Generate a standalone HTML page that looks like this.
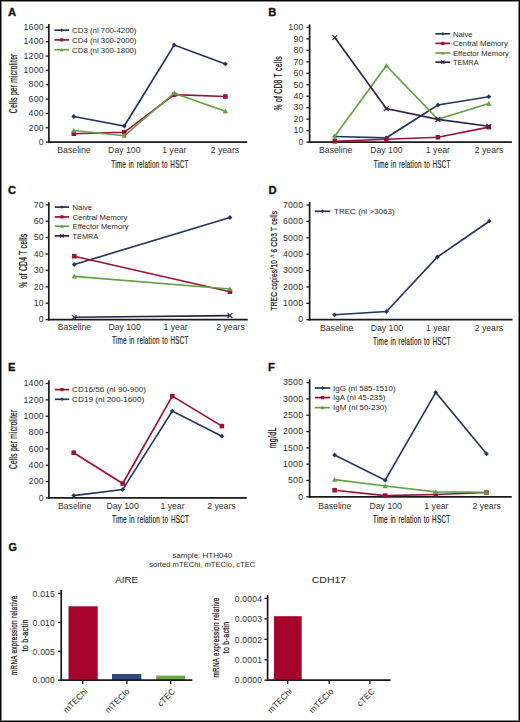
<!DOCTYPE html>
<html><head><meta charset="utf-8"><style>
html,body{margin:0;padding:0;background:#fff;}
body{width:520px;height:722px;overflow:hidden;position:relative;}
svg{position:absolute;left:0;top:0;}
text{font-family:"Liberation Sans", sans-serif;}
</style></head><body>
<svg width="520" height="722" viewBox="0 0 520 722">
<rect x="0" y="0" width="520" height="722" fill="#fff"/>
<text x="8.0" y="16.3" font-size="11.2" text-anchor="start" fill="#111" font-weight="bold" stroke="#111" stroke-width="0.3">A</text>
<line x1="48.9" y1="24.0" x2="48.9" y2="143.0" stroke="#1a1a1a" stroke-width="1.7"/>
<line x1="48.05" y1="142.1" x2="247.2" y2="142.1" stroke="#1a1a1a" stroke-width="1.8"/>
<line x1="45.699999999999996" y1="142.1" x2="48.9" y2="142.1" stroke="#1a1a1a" stroke-width="1.3"/>
<text x="43.85" y="144.85" font-size="8.8" text-anchor="end" fill="#333" font-weight="normal" letter-spacing="0.2">0</text>
<line x1="45.699999999999996" y1="127.75999999999999" x2="48.9" y2="127.75999999999999" stroke="#1a1a1a" stroke-width="1.3"/>
<text x="43.85" y="130.51" font-size="8.8" text-anchor="end" fill="#333" font-weight="normal" letter-spacing="0.2">200</text>
<line x1="45.699999999999996" y1="113.41999999999999" x2="48.9" y2="113.41999999999999" stroke="#1a1a1a" stroke-width="1.3"/>
<text x="43.85" y="116.16999999999999" font-size="8.8" text-anchor="end" fill="#333" font-weight="normal" letter-spacing="0.2">400</text>
<line x1="45.699999999999996" y1="99.07999999999998" x2="48.9" y2="99.07999999999998" stroke="#1a1a1a" stroke-width="1.3"/>
<text x="43.85" y="101.82999999999998" font-size="8.8" text-anchor="end" fill="#333" font-weight="normal" letter-spacing="0.2">600</text>
<line x1="45.699999999999996" y1="84.74" x2="48.9" y2="84.74" stroke="#1a1a1a" stroke-width="1.3"/>
<text x="43.85" y="87.49" font-size="8.8" text-anchor="end" fill="#333" font-weight="normal" letter-spacing="0.2">800</text>
<line x1="45.699999999999996" y1="70.39999999999999" x2="48.9" y2="70.39999999999999" stroke="#1a1a1a" stroke-width="1.3"/>
<text x="43.85" y="73.14999999999999" font-size="8.8" text-anchor="end" fill="#333" font-weight="normal" letter-spacing="0.2">1000</text>
<line x1="45.699999999999996" y1="56.05999999999999" x2="48.9" y2="56.05999999999999" stroke="#1a1a1a" stroke-width="1.3"/>
<text x="43.85" y="58.80999999999999" font-size="8.8" text-anchor="end" fill="#333" font-weight="normal" letter-spacing="0.2">1200</text>
<line x1="45.699999999999996" y1="41.72" x2="48.9" y2="41.72" stroke="#1a1a1a" stroke-width="1.3"/>
<text x="43.85" y="44.47" font-size="8.8" text-anchor="end" fill="#333" font-weight="normal" letter-spacing="0.2">1400</text>
<line x1="45.699999999999996" y1="27.379999999999995" x2="48.9" y2="27.379999999999995" stroke="#1a1a1a" stroke-width="1.3"/>
<text x="43.85" y="30.129999999999995" font-size="8.8" text-anchor="end" fill="#333" font-weight="normal" letter-spacing="0.2">1600</text>
<text x="74.0" y="153.2" font-size="8.7" text-anchor="middle" fill="#333" font-weight="normal" >Baseline</text>
<text x="124.3" y="153.2" font-size="8.7" text-anchor="middle" fill="#333" font-weight="normal" >Day 100</text>
<text x="174.4" y="153.2" font-size="8.7" text-anchor="middle" fill="#333" font-weight="normal" >1 year</text>
<text x="224.9" y="153.2" font-size="8.7" text-anchor="middle" fill="#333" font-weight="normal" >2 years</text>
<text transform="translate(111.25,167.6) scale(0.6005,1)" font-size="10.6" font-weight="normal" letter-spacing="0.416" word-spacing="0.833" text-anchor="start" fill="#1a1a1a" stroke="#1a1a1a" stroke-width="0.2">Time in relation to HSCT</text>
<text transform="translate(16.9,83.3) rotate(-90) scale(0.6484,1)" font-size="10.2" font-weight="normal" letter-spacing="0.386" word-spacing="0.000" text-anchor="middle" fill="#1a1a1a" stroke="#1a1a1a" stroke-width="0.25">Cells per microliter</text>
<line x1="54.4" y1="30.2" x2="69.0" y2="30.2" stroke="#233560" stroke-width="1.7"/>
<path d="M60.0,30.2 L61.7,28.5 L63.400000000000006,30.2 L61.7,31.9 Z" fill="#233560"/>
<text x="72.1" y="33.0" font-size="7.8" text-anchor="start" fill="#282828" font-weight="normal" textLength="64.4" lengthAdjust="spacingAndGlyphs" >CD3 (nl 700-4200)</text>
<line x1="54.4" y1="39.9" x2="69.0" y2="39.9" stroke="#9b1238" stroke-width="1.7"/>
<rect x="60.085" y="38.285" width="3.23" height="3.23" fill="#9b1238"/>
<text x="72.1" y="42.7" font-size="7.8" text-anchor="start" fill="#282828" font-weight="normal" textLength="64.4" lengthAdjust="spacingAndGlyphs" >CD4 (nl 300-2000)</text>
<line x1="54.4" y1="49.699999999999996" x2="69.0" y2="49.699999999999996" stroke="#64a046" stroke-width="1.7"/>
<path d="M59.830000000000005,51.23 L61.7,47.83 L63.57,51.23 Z" fill="#64a046"/>
<text x="72.1" y="52.5" font-size="7.8" text-anchor="start" fill="#282828" font-weight="normal" textLength="64.4" lengthAdjust="spacingAndGlyphs" >CD8 (nl 300-1800)</text>
<polyline points="73.8,116.5 124.3,126.0 174.2,45.0 225.4,63.9" fill="none" stroke="#233560" stroke-width="1.65" stroke-linejoin="miter"/>
<path d="M71.39999999999999,116.5 L73.8,114.1 L76.2,116.5 L73.8,118.9 Z" fill="#233560"/>
<path d="M121.89999999999999,126.0 L124.3,123.6 L126.7,126.0 L124.3,128.4 Z" fill="#233560"/>
<path d="M171.79999999999998,45.0 L174.2,42.6 L176.6,45.0 L174.2,47.4 Z" fill="#233560"/>
<path d="M223.0,63.9 L225.4,61.5 L227.8,63.9 L225.4,66.3 Z" fill="#233560"/>
<polyline points="73.8,133.8 124.3,132.3 174.2,94.7 225.4,96.5" fill="none" stroke="#9b1238" stroke-width="1.65" stroke-linejoin="miter"/>
<rect x="71.52" y="131.52" width="4.56" height="4.56" fill="#9b1238"/>
<rect x="122.02" y="130.02" width="4.56" height="4.56" fill="#9b1238"/>
<rect x="171.92" y="92.42" width="4.56" height="4.56" fill="#9b1238"/>
<rect x="223.12" y="94.22" width="4.56" height="4.56" fill="#9b1238"/>
<polyline points="73.8,130.5 124.3,135.7 174.2,93.2 225.4,111.2" fill="none" stroke="#64a046" stroke-width="1.65" stroke-linejoin="miter"/>
<path d="M71.16,132.66 L73.8,127.86 L76.44,132.66 Z" fill="#64a046"/>
<path d="M121.66,137.85999999999999 L124.3,133.06 L126.94,137.85999999999999 Z" fill="#64a046"/>
<path d="M171.56,95.36 L174.2,90.56 L176.83999999999997,95.36 Z" fill="#64a046"/>
<path d="M222.76000000000002,113.36 L225.4,108.56 L228.04,113.36 Z" fill="#64a046"/>
<text x="268.2" y="16.400000000000002" font-size="11.2" text-anchor="start" fill="#111" font-weight="bold" stroke="#111" stroke-width="0.3">B</text>
<line x1="309.6" y1="24.4" x2="309.6" y2="143.0" stroke="#1a1a1a" stroke-width="1.7"/>
<line x1="308.75" y1="142.1" x2="511.9" y2="142.1" stroke="#1a1a1a" stroke-width="1.8"/>
<line x1="306.40000000000003" y1="142.1" x2="309.6" y2="142.1" stroke="#1a1a1a" stroke-width="1.3"/>
<text x="303.65" y="144.85" font-size="8.8" text-anchor="end" fill="#333" font-weight="normal" letter-spacing="0.2">0</text>
<line x1="306.40000000000003" y1="130.63" x2="309.6" y2="130.63" stroke="#1a1a1a" stroke-width="1.3"/>
<text x="303.65" y="133.38" font-size="8.8" text-anchor="end" fill="#333" font-weight="normal" letter-spacing="0.2">10</text>
<line x1="306.40000000000003" y1="119.16" x2="309.6" y2="119.16" stroke="#1a1a1a" stroke-width="1.3"/>
<text x="303.65" y="121.91" font-size="8.8" text-anchor="end" fill="#333" font-weight="normal" letter-spacing="0.2">20</text>
<line x1="306.40000000000003" y1="107.69" x2="309.6" y2="107.69" stroke="#1a1a1a" stroke-width="1.3"/>
<text x="303.65" y="110.44" font-size="8.8" text-anchor="end" fill="#333" font-weight="normal" letter-spacing="0.2">30</text>
<line x1="306.40000000000003" y1="96.22" x2="309.6" y2="96.22" stroke="#1a1a1a" stroke-width="1.3"/>
<text x="303.65" y="98.97" font-size="8.8" text-anchor="end" fill="#333" font-weight="normal" letter-spacing="0.2">40</text>
<line x1="306.40000000000003" y1="84.75" x2="309.6" y2="84.75" stroke="#1a1a1a" stroke-width="1.3"/>
<text x="303.65" y="87.5" font-size="8.8" text-anchor="end" fill="#333" font-weight="normal" letter-spacing="0.2">50</text>
<line x1="306.40000000000003" y1="73.27999999999999" x2="309.6" y2="73.27999999999999" stroke="#1a1a1a" stroke-width="1.3"/>
<text x="303.65" y="76.02999999999999" font-size="8.8" text-anchor="end" fill="#333" font-weight="normal" letter-spacing="0.2">60</text>
<line x1="306.40000000000003" y1="61.80999999999999" x2="309.6" y2="61.80999999999999" stroke="#1a1a1a" stroke-width="1.3"/>
<text x="303.65" y="64.55999999999999" font-size="8.8" text-anchor="end" fill="#333" font-weight="normal" letter-spacing="0.2">70</text>
<line x1="306.40000000000003" y1="50.33999999999999" x2="309.6" y2="50.33999999999999" stroke="#1a1a1a" stroke-width="1.3"/>
<text x="303.65" y="53.08999999999999" font-size="8.8" text-anchor="end" fill="#333" font-weight="normal" letter-spacing="0.2">80</text>
<line x1="306.40000000000003" y1="38.86999999999999" x2="309.6" y2="38.86999999999999" stroke="#1a1a1a" stroke-width="1.3"/>
<text x="303.65" y="41.61999999999999" font-size="8.8" text-anchor="end" fill="#333" font-weight="normal" letter-spacing="0.2">90</text>
<line x1="306.40000000000003" y1="27.39999999999999" x2="309.6" y2="27.39999999999999" stroke="#1a1a1a" stroke-width="1.3"/>
<text x="303.65" y="30.14999999999999" font-size="8.8" text-anchor="end" fill="#333" font-weight="normal" letter-spacing="0.2">100</text>
<text x="335.7" y="153.1" font-size="8.7" text-anchor="middle" fill="#333" font-weight="normal" >Baseline</text>
<text x="386.4" y="153.1" font-size="8.7" text-anchor="middle" fill="#333" font-weight="normal" >Day 100</text>
<text x="437.9" y="153.1" font-size="8.7" text-anchor="middle" fill="#333" font-weight="normal" >1 year</text>
<text x="489.0" y="153.1" font-size="8.7" text-anchor="middle" fill="#333" font-weight="normal" >2 years</text>
<text transform="translate(373.8,167.7) scale(0.5962,1)" font-size="10.6" font-weight="normal" letter-spacing="0.419" word-spacing="0.839" text-anchor="start" fill="#1a1a1a" stroke="#1a1a1a" stroke-width="0.2">Time in relation to HSCT</text>
<text transform="translate(282.0,83.3) rotate(-90) scale(0.6675,1)" font-size="10.2" font-weight="normal" letter-spacing="0.375" word-spacing="0.000" text-anchor="middle" fill="#1a1a1a" stroke="#1a1a1a" stroke-width="0.25">% of CD8 T cells</text>
<line x1="435.4" y1="33.8" x2="450.2" y2="33.8" stroke="#233560" stroke-width="1.7"/>
<path d="M441.09999999999997,33.8 L442.79999999999995,32.099999999999994 L444.49999999999994,33.8 L442.79999999999995,35.5 Z" fill="#233560"/>
<text x="453.0" y="36.6" font-size="7.8" text-anchor="start" fill="#282828" font-weight="normal" textLength="19.5" lengthAdjust="spacingAndGlyphs" >Naive</text>
<line x1="435.4" y1="43.4" x2="450.2" y2="43.4" stroke="#9b1238" stroke-width="1.7"/>
<rect x="441.18499999999995" y="41.785" width="3.23" height="3.23" fill="#9b1238"/>
<text x="453.0" y="46.2" font-size="7.8" text-anchor="start" fill="#282828" font-weight="normal" textLength="54.8" lengthAdjust="spacingAndGlyphs" >Central Memory</text>
<line x1="435.4" y1="53.0" x2="450.2" y2="53.0" stroke="#64a046" stroke-width="1.7"/>
<path d="M440.92999999999995,54.53 L442.79999999999995,51.13 L444.66999999999996,54.53 Z" fill="#64a046"/>
<text x="453.0" y="55.800000000000004" font-size="7.8" text-anchor="start" fill="#282828" font-weight="normal" textLength="55.8" lengthAdjust="spacingAndGlyphs" >Effector Memory</text>
<line x1="435.4" y1="62.199999999999996" x2="450.2" y2="62.199999999999996" stroke="#33204c" stroke-width="1.7"/>
<path d="M441.09999999999997,60.49999999999999 L444.49999999999994,63.9 M441.09999999999997,63.9 L444.49999999999994,60.49999999999999" stroke="#33204c" stroke-width="1.1" fill="none"/>
<text x="453.0" y="65.0" font-size="7.8" text-anchor="start" fill="#282828" font-weight="normal" textLength="25.5" lengthAdjust="spacingAndGlyphs" >TEMRA</text>
<polyline points="334.8,136.5 386.3,137.8 437.9,105.0 488.8,96.7" fill="none" stroke="#233560" stroke-width="1.65" stroke-linejoin="miter"/>
<path d="M332.40000000000003,136.5 L334.8,134.1 L337.2,136.5 L334.8,138.9 Z" fill="#233560"/>
<path d="M383.90000000000003,137.8 L386.3,135.4 L388.7,137.8 L386.3,140.20000000000002 Z" fill="#233560"/>
<path d="M435.5,105.0 L437.9,102.6 L440.29999999999995,105.0 L437.9,107.4 Z" fill="#233560"/>
<path d="M486.40000000000003,96.7 L488.8,94.3 L491.2,96.7 L488.8,99.10000000000001 Z" fill="#233560"/>
<polyline points="334.8,141.3 386.3,139.2 437.9,137.3 488.8,127.1" fill="none" stroke="#9b1238" stroke-width="1.65" stroke-linejoin="miter"/>
<rect x="332.52000000000004" y="139.02" width="4.56" height="4.56" fill="#9b1238"/>
<rect x="384.02000000000004" y="136.92" width="4.56" height="4.56" fill="#9b1238"/>
<rect x="435.62" y="135.02" width="4.56" height="4.56" fill="#9b1238"/>
<rect x="486.52000000000004" y="124.82" width="4.56" height="4.56" fill="#9b1238"/>
<polyline points="334.8,136.3 386.3,65.7 437.9,119.4 488.8,103.5" fill="none" stroke="#64a046" stroke-width="1.65" stroke-linejoin="miter"/>
<path d="M332.16,138.46 L334.8,133.66000000000003 L337.44,138.46 Z" fill="#64a046"/>
<path d="M383.66,67.86 L386.3,63.06 L388.94,67.86 Z" fill="#64a046"/>
<path d="M435.26,121.56 L437.9,116.76 L440.53999999999996,121.56 Z" fill="#64a046"/>
<path d="M486.16,105.66 L488.8,100.86 L491.44,105.66 Z" fill="#64a046"/>
<polyline points="334.8,37.5 386.3,108.6 437.9,119.4 488.8,126.2" fill="none" stroke="#33204c" stroke-width="1.65" stroke-linejoin="miter"/>
<path d="M332.40000000000003,35.1 L337.2,39.9 M332.40000000000003,39.9 L337.2,35.1" stroke="#33204c" stroke-width="1.1" fill="none"/>
<path d="M383.90000000000003,106.19999999999999 L388.7,111.0 M383.90000000000003,111.0 L388.7,106.19999999999999" stroke="#33204c" stroke-width="1.1" fill="none"/>
<path d="M435.5,117.0 L440.29999999999995,121.80000000000001 M435.5,121.80000000000001 L440.29999999999995,117.0" stroke="#33204c" stroke-width="1.1" fill="none"/>
<path d="M486.40000000000003,123.8 L491.2,128.6 M486.40000000000003,128.6 L491.2,123.8" stroke="#33204c" stroke-width="1.1" fill="none"/>
<text x="8.0" y="193.60000000000002" font-size="11.2" text-anchor="start" fill="#111" font-weight="bold" stroke="#111" stroke-width="0.3">C</text>
<line x1="48.8" y1="202.2" x2="48.8" y2="320.5" stroke="#1a1a1a" stroke-width="1.7"/>
<line x1="47.949999999999996" y1="319.6" x2="247.8" y2="319.6" stroke="#1a1a1a" stroke-width="1.8"/>
<line x1="45.599999999999994" y1="319.6" x2="48.8" y2="319.6" stroke="#1a1a1a" stroke-width="1.3"/>
<text x="43.85" y="322.35" font-size="8.8" text-anchor="end" fill="#333" font-weight="normal" letter-spacing="0.2">0</text>
<line x1="45.599999999999994" y1="303.20000000000005" x2="48.8" y2="303.20000000000005" stroke="#1a1a1a" stroke-width="1.3"/>
<text x="43.85" y="305.95000000000005" font-size="8.8" text-anchor="end" fill="#333" font-weight="normal" letter-spacing="0.2">10</text>
<line x1="45.599999999999994" y1="286.8" x2="48.8" y2="286.8" stroke="#1a1a1a" stroke-width="1.3"/>
<text x="43.85" y="289.55" font-size="8.8" text-anchor="end" fill="#333" font-weight="normal" letter-spacing="0.2">20</text>
<line x1="45.599999999999994" y1="270.40000000000003" x2="48.8" y2="270.40000000000003" stroke="#1a1a1a" stroke-width="1.3"/>
<text x="43.85" y="273.15000000000003" font-size="8.8" text-anchor="end" fill="#333" font-weight="normal" letter-spacing="0.2">30</text>
<line x1="45.599999999999994" y1="254.00000000000003" x2="48.8" y2="254.00000000000003" stroke="#1a1a1a" stroke-width="1.3"/>
<text x="43.85" y="256.75" font-size="8.8" text-anchor="end" fill="#333" font-weight="normal" letter-spacing="0.2">40</text>
<line x1="45.599999999999994" y1="237.60000000000002" x2="48.8" y2="237.60000000000002" stroke="#1a1a1a" stroke-width="1.3"/>
<text x="43.85" y="240.35000000000002" font-size="8.8" text-anchor="end" fill="#333" font-weight="normal" letter-spacing="0.2">50</text>
<line x1="45.599999999999994" y1="221.20000000000005" x2="48.8" y2="221.20000000000005" stroke="#1a1a1a" stroke-width="1.3"/>
<text x="43.85" y="223.95000000000005" font-size="8.8" text-anchor="end" fill="#333" font-weight="normal" letter-spacing="0.2">60</text>
<line x1="45.599999999999994" y1="204.8" x2="48.8" y2="204.8" stroke="#1a1a1a" stroke-width="1.3"/>
<text x="43.85" y="207.55" font-size="8.8" text-anchor="end" fill="#333" font-weight="normal" letter-spacing="0.2">70</text>
<text x="74.5" y="330.40000000000003" font-size="8.7" text-anchor="middle" fill="#333" font-weight="normal" >Baseline</text>
<text x="124.6" y="330.40000000000003" font-size="8.7" text-anchor="middle" fill="#333" font-weight="normal" >Day 100</text>
<text x="175.6" y="330.40000000000003" font-size="8.7" text-anchor="middle" fill="#333" font-weight="normal" >1 year</text>
<text x="230.5" y="330.40000000000003" font-size="8.7" text-anchor="middle" fill="#333" font-weight="normal" >2 years</text>
<text transform="translate(111.9,344.1) scale(0.5953,1)" font-size="10.6" font-weight="normal" letter-spacing="0.420" word-spacing="0.840" text-anchor="start" fill="#1a1a1a" stroke="#1a1a1a" stroke-width="0.2">Time in relation to HSCT</text>
<text transform="translate(26.9,260.7) rotate(-90) scale(0.6622,1)" font-size="10.2" font-weight="normal" letter-spacing="0.378" word-spacing="0.000" text-anchor="middle" fill="#1a1a1a" stroke="#1a1a1a" stroke-width="0.25">% of CD4 T cells</text>
<line x1="54.7" y1="207.10000000000002" x2="69.2" y2="207.10000000000002" stroke="#233560" stroke-width="1.7"/>
<path d="M60.25,207.10000000000002 L61.95,205.40000000000003 L63.650000000000006,207.10000000000002 L61.95,208.8 Z" fill="#233560"/>
<text x="72.6" y="209.9" font-size="7.8" text-anchor="start" fill="#282828" font-weight="normal" textLength="19.5" lengthAdjust="spacingAndGlyphs" >Naive</text>
<line x1="54.7" y1="216.9" x2="69.2" y2="216.9" stroke="#9b1238" stroke-width="1.7"/>
<rect x="60.335" y="215.285" width="3.23" height="3.23" fill="#9b1238"/>
<text x="72.6" y="219.7" font-size="7.8" text-anchor="start" fill="#282828" font-weight="normal" textLength="54.8" lengthAdjust="spacingAndGlyphs" >Central Memory</text>
<line x1="54.7" y1="226.20000000000002" x2="69.2" y2="226.20000000000002" stroke="#64a046" stroke-width="1.7"/>
<path d="M60.080000000000005,227.73000000000002 L61.95,224.33 L63.82,227.73000000000002 Z" fill="#64a046"/>
<text x="72.6" y="229.0" font-size="7.8" text-anchor="start" fill="#282828" font-weight="normal" textLength="56.0" lengthAdjust="spacingAndGlyphs" >Effector Memory</text>
<line x1="54.7" y1="235.9" x2="69.2" y2="235.9" stroke="#33204c" stroke-width="1.7"/>
<path d="M60.25,234.20000000000002 L63.650000000000006,237.6 M60.25,237.6 L63.650000000000006,234.20000000000002" stroke="#33204c" stroke-width="1.1" fill="none"/>
<text x="72.6" y="238.7" font-size="7.8" text-anchor="start" fill="#282828" font-weight="normal" textLength="25.5" lengthAdjust="spacingAndGlyphs" >TEMRA</text>
<polyline points="74.3,264.5 229.9,217.5" fill="none" stroke="#233560" stroke-width="1.65" stroke-linejoin="miter"/>
<path d="M71.89999999999999,264.5 L74.3,262.1 L76.7,264.5 L74.3,266.9 Z" fill="#233560"/>
<path d="M227.5,217.5 L229.9,215.1 L232.3,217.5 L229.9,219.9 Z" fill="#233560"/>
<polyline points="74.3,256.2 229.9,291.8" fill="none" stroke="#9b1238" stroke-width="1.65" stroke-linejoin="miter"/>
<rect x="72.02" y="253.92" width="4.56" height="4.56" fill="#9b1238"/>
<rect x="227.62" y="289.52000000000004" width="4.56" height="4.56" fill="#9b1238"/>
<polyline points="74.3,276.4 229.9,289.0" fill="none" stroke="#64a046" stroke-width="1.65" stroke-linejoin="miter"/>
<path d="M71.66,278.56 L74.3,273.76 L76.94,278.56 Z" fill="#64a046"/>
<path d="M227.26000000000002,291.16 L229.9,286.36 L232.54,291.16 Z" fill="#64a046"/>
<polyline points="74.3,317.3 229.9,315.6" fill="none" stroke="#33204c" stroke-width="1.65" stroke-linejoin="miter"/>
<path d="M71.89999999999999,314.90000000000003 L76.7,319.7 M71.89999999999999,319.7 L76.7,314.90000000000003" stroke="#33204c" stroke-width="1.1" fill="none"/>
<path d="M227.5,313.20000000000005 L232.3,318.0 M227.5,318.0 L232.3,313.20000000000005" stroke="#33204c" stroke-width="1.1" fill="none"/>
<text x="268.5" y="193.8" font-size="11.2" text-anchor="start" fill="#111" font-weight="bold" stroke="#111" stroke-width="0.3">D</text>
<line x1="309.6" y1="202.0" x2="309.6" y2="320.59999999999997" stroke="#1a1a1a" stroke-width="1.7"/>
<line x1="308.75" y1="319.7" x2="512.5" y2="319.7" stroke="#1a1a1a" stroke-width="1.8"/>
<line x1="306.40000000000003" y1="319.7" x2="309.6" y2="319.7" stroke="#1a1a1a" stroke-width="1.3"/>
<text x="303.25" y="322.45" font-size="8.8" text-anchor="end" fill="#333" font-weight="normal" letter-spacing="0.2">0</text>
<line x1="306.40000000000003" y1="303.32" x2="309.6" y2="303.32" stroke="#1a1a1a" stroke-width="1.3"/>
<text x="303.25" y="306.07" font-size="8.8" text-anchor="end" fill="#333" font-weight="normal" letter-spacing="0.2">1000</text>
<line x1="306.40000000000003" y1="286.94" x2="309.6" y2="286.94" stroke="#1a1a1a" stroke-width="1.3"/>
<text x="303.25" y="289.69" font-size="8.8" text-anchor="end" fill="#333" font-weight="normal" letter-spacing="0.2">2000</text>
<line x1="306.40000000000003" y1="270.56" x2="309.6" y2="270.56" stroke="#1a1a1a" stroke-width="1.3"/>
<text x="303.25" y="273.31" font-size="8.8" text-anchor="end" fill="#333" font-weight="normal" letter-spacing="0.2">3000</text>
<line x1="306.40000000000003" y1="254.18" x2="309.6" y2="254.18" stroke="#1a1a1a" stroke-width="1.3"/>
<text x="303.25" y="256.93" font-size="8.8" text-anchor="end" fill="#333" font-weight="normal" letter-spacing="0.2">4000</text>
<line x1="306.40000000000003" y1="237.8" x2="309.6" y2="237.8" stroke="#1a1a1a" stroke-width="1.3"/>
<text x="303.25" y="240.55" font-size="8.8" text-anchor="end" fill="#333" font-weight="normal" letter-spacing="0.2">5000</text>
<line x1="306.40000000000003" y1="221.42000000000002" x2="309.6" y2="221.42000000000002" stroke="#1a1a1a" stroke-width="1.3"/>
<text x="303.25" y="224.17000000000002" font-size="8.8" text-anchor="end" fill="#333" font-weight="normal" letter-spacing="0.2">6000</text>
<line x1="306.40000000000003" y1="205.04" x2="309.6" y2="205.04" stroke="#1a1a1a" stroke-width="1.3"/>
<text x="303.25" y="207.79" font-size="8.8" text-anchor="end" fill="#333" font-weight="normal" letter-spacing="0.2">7000</text>
<text x="336.6" y="330.5" font-size="8.7" text-anchor="middle" fill="#333" font-weight="normal" >Baseline</text>
<text x="386.9" y="330.5" font-size="8.7" text-anchor="middle" fill="#333" font-weight="normal" >Day 100</text>
<text x="438.0" y="330.5" font-size="8.7" text-anchor="middle" fill="#333" font-weight="normal" >1 year</text>
<text x="488.9" y="330.5" font-size="8.7" text-anchor="middle" fill="#333" font-weight="normal" >2 years</text>
<text transform="translate(373.0,344.5) scale(0.6040,1)" font-size="10.6" font-weight="normal" letter-spacing="0.414" word-spacing="0.828" text-anchor="start" fill="#1a1a1a" stroke="#1a1a1a" stroke-width="0.2">Time in relation to HSCT</text>
<text transform="translate(277.0,260.6) rotate(-90) scale(0.6892,1)" font-size="9.4" font-weight="normal" letter-spacing="0.363" word-spacing="0.000" text-anchor="middle" fill="#1a1a1a" stroke="#1a1a1a" stroke-width="0.25">TREC copies/10 ^ 6 CD3 T cells</text>
<line x1="314.8" y1="211.3" x2="330.2" y2="211.3" stroke="#233560" stroke-width="1.7"/>
<path d="M320.8,211.3 L322.5,209.60000000000002 L324.2,211.3 L322.5,213.0 Z" fill="#233560"/>
<text x="334.0" y="214.1" font-size="7.8" text-anchor="start" fill="#282828" font-weight="normal" textLength="60.6" lengthAdjust="spacingAndGlyphs" >TREC (nl &gt;3063)</text>
<polyline points="334.6,314.8 386.5,311.5 437.4,257.0 489.3,221.2" fill="none" stroke="#233560" stroke-width="1.65" stroke-linejoin="miter"/>
<path d="M332.20000000000005,314.8 L334.6,312.40000000000003 L337.0,314.8 L334.6,317.2 Z" fill="#233560"/>
<path d="M384.1,311.5 L386.5,309.1 L388.9,311.5 L386.5,313.9 Z" fill="#233560"/>
<path d="M435.0,257.0 L437.4,254.6 L439.79999999999995,257.0 L437.4,259.4 Z" fill="#233560"/>
<path d="M486.90000000000003,221.2 L489.3,218.79999999999998 L491.7,221.2 L489.3,223.6 Z" fill="#233560"/>
<text x="8.0" y="371.40000000000003" font-size="11.2" text-anchor="start" fill="#111" font-weight="bold" stroke="#111" stroke-width="0.3">E</text>
<line x1="48.9" y1="380.2" x2="48.9" y2="498.79999999999995" stroke="#1a1a1a" stroke-width="1.7"/>
<line x1="48.05" y1="497.9" x2="246.8" y2="497.9" stroke="#1a1a1a" stroke-width="1.8"/>
<line x1="45.699999999999996" y1="497.9" x2="48.9" y2="497.9" stroke="#1a1a1a" stroke-width="1.3"/>
<text x="43.85" y="500.65" font-size="8.8" text-anchor="end" fill="#333" font-weight="normal" letter-spacing="0.2">0</text>
<line x1="45.699999999999996" y1="481.56" x2="48.9" y2="481.56" stroke="#1a1a1a" stroke-width="1.3"/>
<text x="43.85" y="484.31" font-size="8.8" text-anchor="end" fill="#333" font-weight="normal" letter-spacing="0.2">200</text>
<line x1="45.699999999999996" y1="465.21999999999997" x2="48.9" y2="465.21999999999997" stroke="#1a1a1a" stroke-width="1.3"/>
<text x="43.85" y="467.96999999999997" font-size="8.8" text-anchor="end" fill="#333" font-weight="normal" letter-spacing="0.2">400</text>
<line x1="45.699999999999996" y1="448.88" x2="48.9" y2="448.88" stroke="#1a1a1a" stroke-width="1.3"/>
<text x="43.85" y="451.63" font-size="8.8" text-anchor="end" fill="#333" font-weight="normal" letter-spacing="0.2">600</text>
<line x1="45.699999999999996" y1="432.53999999999996" x2="48.9" y2="432.53999999999996" stroke="#1a1a1a" stroke-width="1.3"/>
<text x="43.85" y="435.28999999999996" font-size="8.8" text-anchor="end" fill="#333" font-weight="normal" letter-spacing="0.2">800</text>
<line x1="45.699999999999996" y1="416.2" x2="48.9" y2="416.2" stroke="#1a1a1a" stroke-width="1.3"/>
<text x="43.85" y="418.95" font-size="8.8" text-anchor="end" fill="#333" font-weight="normal" letter-spacing="0.2">1000</text>
<line x1="45.699999999999996" y1="399.86" x2="48.9" y2="399.86" stroke="#1a1a1a" stroke-width="1.3"/>
<text x="43.85" y="402.61" font-size="8.8" text-anchor="end" fill="#333" font-weight="normal" letter-spacing="0.2">1200</text>
<line x1="45.699999999999996" y1="383.52" x2="48.9" y2="383.52" stroke="#1a1a1a" stroke-width="1.3"/>
<text x="43.85" y="386.27" font-size="8.8" text-anchor="end" fill="#333" font-weight="normal" letter-spacing="0.2">1400</text>
<text x="74.6" y="508.90000000000003" font-size="8.7" text-anchor="middle" fill="#333" font-weight="normal" >Baseline</text>
<text x="122.6" y="508.90000000000003" font-size="8.7" text-anchor="middle" fill="#333" font-weight="normal" >Day 100</text>
<text x="172.5" y="508.90000000000003" font-size="8.7" text-anchor="middle" fill="#333" font-weight="normal" >1 year</text>
<text x="221.4" y="508.90000000000003" font-size="8.7" text-anchor="middle" fill="#333" font-weight="normal" >2 years</text>
<text transform="translate(112.0,522.9) scale(0.5988,1)" font-size="10.6" font-weight="normal" letter-spacing="0.418" word-spacing="0.835" text-anchor="start" fill="#1a1a1a" stroke="#1a1a1a" stroke-width="0.2">Time in relation to HSCT</text>
<text transform="translate(16.9,439.3) rotate(-90) scale(0.6448,1)" font-size="10.2" font-weight="normal" letter-spacing="0.388" word-spacing="0.000" text-anchor="middle" fill="#1a1a1a" stroke="#1a1a1a" stroke-width="0.25">Cells per microliter</text>
<line x1="54.8" y1="389.6" x2="69.2" y2="389.6" stroke="#9b1238" stroke-width="1.7"/>
<rect x="60.385" y="387.985" width="3.23" height="3.23" fill="#9b1238"/>
<text x="72.1" y="392.40000000000003" font-size="7.8" text-anchor="start" fill="#282828" font-weight="normal" textLength="74.0" lengthAdjust="spacingAndGlyphs" >CD16/56 (nl 90-900)</text>
<line x1="54.8" y1="399.3" x2="69.2" y2="399.3" stroke="#233560" stroke-width="1.7"/>
<path d="M60.3,399.3 L62.0,397.6 L63.7,399.3 L62.0,401.0 Z" fill="#233560"/>
<text x="72.1" y="402.1" font-size="7.8" text-anchor="start" fill="#282828" font-weight="normal" textLength="72.1" lengthAdjust="spacingAndGlyphs" >CD19 (nl 200-1600)</text>
<polyline points="73.7,495.6 122.7,489.6 172.3,411.1 221.9,436.2" fill="none" stroke="#233560" stroke-width="1.65" stroke-linejoin="miter"/>
<path d="M71.3,495.6 L73.7,493.20000000000005 L76.10000000000001,495.6 L73.7,498.0 Z" fill="#233560"/>
<path d="M120.3,489.6 L122.7,487.20000000000005 L125.10000000000001,489.6 L122.7,492.0 Z" fill="#233560"/>
<path d="M169.9,411.1 L172.3,408.70000000000005 L174.70000000000002,411.1 L172.3,413.5 Z" fill="#233560"/>
<path d="M219.5,436.2 L221.9,433.8 L224.3,436.2 L221.9,438.59999999999997 Z" fill="#233560"/>
<polyline points="73.7,452.7 122.7,483.5 172.3,396.1 221.9,426.1" fill="none" stroke="#9b1238" stroke-width="1.65" stroke-linejoin="miter"/>
<rect x="71.42" y="450.42" width="4.56" height="4.56" fill="#9b1238"/>
<rect x="120.42" y="481.22" width="4.56" height="4.56" fill="#9b1238"/>
<rect x="170.02" y="393.82000000000005" width="4.56" height="4.56" fill="#9b1238"/>
<rect x="219.62" y="423.82000000000005" width="4.56" height="4.56" fill="#9b1238"/>
<text x="268.0" y="371.40000000000003" font-size="11.2" text-anchor="start" fill="#111" font-weight="bold" stroke="#111" stroke-width="0.3">F</text>
<line x1="309.6" y1="379.2" x2="309.6" y2="497.7" stroke="#1a1a1a" stroke-width="1.7"/>
<line x1="308.75" y1="496.8" x2="511.8" y2="496.8" stroke="#1a1a1a" stroke-width="1.8"/>
<line x1="306.40000000000003" y1="496.8" x2="309.6" y2="496.8" stroke="#1a1a1a" stroke-width="1.3"/>
<text x="303.25" y="499.55" font-size="8.8" text-anchor="end" fill="#333" font-weight="normal" letter-spacing="0.2">0</text>
<line x1="306.40000000000003" y1="480.485" x2="309.6" y2="480.485" stroke="#1a1a1a" stroke-width="1.3"/>
<text x="303.25" y="483.235" font-size="8.8" text-anchor="end" fill="#333" font-weight="normal" letter-spacing="0.2">500</text>
<line x1="306.40000000000003" y1="464.17" x2="309.6" y2="464.17" stroke="#1a1a1a" stroke-width="1.3"/>
<text x="303.25" y="466.92" font-size="8.8" text-anchor="end" fill="#333" font-weight="normal" letter-spacing="0.2">1000</text>
<line x1="306.40000000000003" y1="447.855" x2="309.6" y2="447.855" stroke="#1a1a1a" stroke-width="1.3"/>
<text x="303.25" y="450.605" font-size="8.8" text-anchor="end" fill="#333" font-weight="normal" letter-spacing="0.2">1500</text>
<line x1="306.40000000000003" y1="431.54" x2="309.6" y2="431.54" stroke="#1a1a1a" stroke-width="1.3"/>
<text x="303.25" y="434.29" font-size="8.8" text-anchor="end" fill="#333" font-weight="normal" letter-spacing="0.2">2000</text>
<line x1="306.40000000000003" y1="415.225" x2="309.6" y2="415.225" stroke="#1a1a1a" stroke-width="1.3"/>
<text x="303.25" y="417.975" font-size="8.8" text-anchor="end" fill="#333" font-weight="normal" letter-spacing="0.2">2500</text>
<line x1="306.40000000000003" y1="398.91" x2="309.6" y2="398.91" stroke="#1a1a1a" stroke-width="1.3"/>
<text x="303.25" y="401.66" font-size="8.8" text-anchor="end" fill="#333" font-weight="normal" letter-spacing="0.2">3000</text>
<line x1="306.40000000000003" y1="382.595" x2="309.6" y2="382.595" stroke="#1a1a1a" stroke-width="1.3"/>
<text x="303.25" y="385.345" font-size="8.8" text-anchor="end" fill="#333" font-weight="normal" letter-spacing="0.2">3500</text>
<text x="334.8" y="508.90000000000003" font-size="8.7" text-anchor="middle" fill="#333" font-weight="normal" >Baseline</text>
<text x="385.7" y="508.90000000000003" font-size="8.7" text-anchor="middle" fill="#333" font-weight="normal" >Day 100</text>
<text x="436.4" y="508.90000000000003" font-size="8.7" text-anchor="middle" fill="#333" font-weight="normal" >1 year</text>
<text x="486.7" y="508.90000000000003" font-size="8.7" text-anchor="middle" fill="#333" font-weight="normal" >2 years</text>
<text transform="translate(373.0,522.9) scale(0.6005,1)" font-size="10.6" font-weight="normal" letter-spacing="0.416" word-spacing="0.833" text-anchor="start" fill="#1a1a1a" stroke="#1a1a1a" stroke-width="0.2">Time in relation to HSCT</text>
<text transform="translate(275.8,437.9) rotate(-90) scale(0.6851,1)" font-size="10.4" font-weight="normal" letter-spacing="0.365" word-spacing="0.000" text-anchor="middle" fill="#1a1a1a" stroke="#1a1a1a" stroke-width="0.25">mg/dL</text>
<line x1="314.8" y1="388.0" x2="330.2" y2="388.0" stroke="#233560" stroke-width="1.7"/>
<path d="M320.8,388.0 L322.5,386.3 L324.2,388.0 L322.5,389.7 Z" fill="#233560"/>
<text x="333.1" y="390.8" font-size="7.8" text-anchor="start" fill="#282828" font-weight="normal" textLength="62.5" lengthAdjust="spacingAndGlyphs" >IgG (nl 585-1510)</text>
<line x1="314.8" y1="397.6" x2="330.2" y2="397.6" stroke="#9b1238" stroke-width="1.7"/>
<rect x="320.885" y="395.985" width="3.23" height="3.23" fill="#9b1238"/>
<text x="333.1" y="400.40000000000003" font-size="7.8" text-anchor="start" fill="#282828" font-weight="normal" textLength="52.3" lengthAdjust="spacingAndGlyphs" >IgA (nl 45-235)</text>
<line x1="314.8" y1="407.6" x2="330.2" y2="407.6" stroke="#64a046" stroke-width="1.7"/>
<path d="M320.63,409.13 L322.5,405.73 L324.37,409.13 Z" fill="#64a046"/>
<text x="333.1" y="410.40000000000003" font-size="7.8" text-anchor="start" fill="#282828" font-weight="normal" textLength="53.8" lengthAdjust="spacingAndGlyphs" >IgM (nl 50-230)</text>
<polyline points="334.6,455.0 385.2,480.2 435.8,392.4 486.5,453.8" fill="none" stroke="#233560" stroke-width="1.65" stroke-linejoin="miter"/>
<path d="M332.20000000000005,455.0 L334.6,452.6 L337.0,455.0 L334.6,457.4 Z" fill="#233560"/>
<path d="M382.8,480.2 L385.2,477.8 L387.59999999999997,480.2 L385.2,482.59999999999997 Z" fill="#233560"/>
<path d="M433.40000000000003,392.4 L435.8,390.0 L438.2,392.4 L435.8,394.79999999999995 Z" fill="#233560"/>
<path d="M484.1,453.8 L486.5,451.40000000000003 L488.9,453.8 L486.5,456.2 Z" fill="#233560"/>
<polyline points="334.6,490.2 385.2,495.6 435.8,494.5 486.5,492.5" fill="none" stroke="#9b1238" stroke-width="1.65" stroke-linejoin="miter"/>
<rect x="332.32000000000005" y="487.92" width="4.56" height="4.56" fill="#9b1238"/>
<rect x="382.92" y="493.32000000000005" width="4.56" height="4.56" fill="#9b1238"/>
<rect x="433.52000000000004" y="492.22" width="4.56" height="4.56" fill="#9b1238"/>
<rect x="484.22" y="490.22" width="4.56" height="4.56" fill="#9b1238"/>
<polyline points="334.6,479.6 385.2,486.0 435.8,491.9 486.5,492.3" fill="none" stroke="#64a046" stroke-width="1.65" stroke-linejoin="miter"/>
<path d="M331.96000000000004,481.76000000000005 L334.6,476.96000000000004 L337.24,481.76000000000005 Z" fill="#64a046"/>
<path d="M382.56,488.16 L385.2,483.36 L387.84,488.16 Z" fill="#64a046"/>
<path d="M433.16,494.06 L435.8,489.26 L438.44,494.06 Z" fill="#64a046"/>
<path d="M483.86,494.46000000000004 L486.5,489.66 L489.14,494.46000000000004 Z" fill="#64a046"/>
<text x="8.5" y="550.6" font-size="10.8" text-anchor="start" fill="#111" font-weight="bold" stroke="#111" stroke-width="0.3">G</text>
<text x="172.3" y="557.7" font-size="7.8" text-anchor="start" fill="#2a2a2a" font-weight="normal" textLength="60.0" lengthAdjust="spacingAndGlyphs" >sample: HTH040</text>
<text x="149.2" y="567.4" font-size="7.8" text-anchor="start" fill="#2a2a2a" font-weight="normal" textLength="106.2" lengthAdjust="spacingAndGlyphs" >sorted mTEChi, mTEClo, cTEC</text>
<text x="115.2" y="583.0" font-size="9.8" text-anchor="start" fill="#1a1a1a" font-weight="normal" textLength="22.8" lengthAdjust="spacingAndGlyphs" >AIRE</text>
<text x="311.8" y="583.2" font-size="9.8" text-anchor="start" fill="#1a1a1a" font-weight="normal" textLength="34.3" lengthAdjust="spacingAndGlyphs" >CDH17</text>
<rect x="68.5" y="606.3" width="29.200000000000003" height="73.90000000000009" fill="#a5022c"/>
<rect x="112.0" y="674.0" width="29.30000000000001" height="6.2000000000000455" fill="#2e4a7c"/>
<rect x="156.2" y="675.6" width="28.80000000000001" height="4.600000000000023" fill="#6aa84a"/>
<line x1="61.2" y1="590.0" x2="61.2" y2="681.1" stroke="#1a1a1a" stroke-width="1.7"/>
<line x1="60.35" y1="680.2" x2="192.3" y2="680.2" stroke="#1a1a1a" stroke-width="1.8"/>
<line x1="58.0" y1="680.2" x2="61.2" y2="680.2" stroke="#1a1a1a" stroke-width="1.3"/>
<text x="55.1" y="683.4000000000001" font-size="8.6" text-anchor="end" fill="#333" font-weight="normal" letter-spacing="0.2">0.000</text>
<line x1="58.0" y1="651.3" x2="61.2" y2="651.3" stroke="#1a1a1a" stroke-width="1.3"/>
<text x="55.1" y="654.5" font-size="8.6" text-anchor="end" fill="#333" font-weight="normal" letter-spacing="0.2">0.005</text>
<line x1="58.0" y1="622.4" x2="61.2" y2="622.4" stroke="#1a1a1a" stroke-width="1.3"/>
<text x="55.1" y="625.6" font-size="8.6" text-anchor="end" fill="#333" font-weight="normal" letter-spacing="0.2">0.010</text>
<line x1="58.0" y1="593.4" x2="61.2" y2="593.4" stroke="#1a1a1a" stroke-width="1.3"/>
<text x="55.1" y="596.6" font-size="8.6" text-anchor="end" fill="#333" font-weight="normal" letter-spacing="0.2">0.015</text>
<line x1="82.7" y1="680.2" x2="82.7" y2="684.0" stroke="#1a1a1a" stroke-width="1.3"/>
<line x1="126.9" y1="680.2" x2="126.9" y2="684.0" stroke="#1a1a1a" stroke-width="1.3"/>
<line x1="170.6" y1="680.2" x2="170.6" y2="684.0" stroke="#1a1a1a" stroke-width="1.3"/>
<text transform="translate(88.2,691.9) rotate(-45)" font-size="8.5" text-anchor="end" fill="#2a2a2a">mTEChi</text>
<text transform="translate(130.2,691.9) rotate(-45)" font-size="8.5" text-anchor="end" fill="#2a2a2a">mTEClo</text>
<text transform="translate(175.7,691.9) rotate(-45)" font-size="8.5" text-anchor="end" fill="#2a2a2a">cTEC</text>
<text transform="translate(17.0,635.2) rotate(-90) scale(0.7171,1)" font-size="8.8" font-weight="normal" letter-spacing="0.418" word-spacing="0.000" text-anchor="middle" fill="#1a1a1a" stroke="#1a1a1a" stroke-width="0.25">mRNA expression relative</text>
<text transform="translate(27.6,635.3) rotate(-90) scale(0.8095,1)" font-size="8.8" font-weight="normal" letter-spacing="0.371" word-spacing="0.000" text-anchor="middle" fill="#1a1a1a" stroke="#1a1a1a" stroke-width="0.25">to b-actin</text>
<rect x="274.0" y="616.2" width="27.69999999999999" height="64.0" fill="#a5022c"/>
<line x1="267.6" y1="595.0" x2="267.6" y2="681.1" stroke="#1a1a1a" stroke-width="1.7"/>
<line x1="266.75" y1="680.2" x2="390.6" y2="680.2" stroke="#1a1a1a" stroke-width="1.8"/>
<line x1="264.40000000000003" y1="680.2" x2="267.6" y2="680.2" stroke="#1a1a1a" stroke-width="1.3"/>
<text x="262.3" y="683.4000000000001" font-size="8.6" text-anchor="end" fill="#333" font-weight="normal" letter-spacing="0.2">0.0000</text>
<line x1="264.40000000000003" y1="659.75" x2="267.6" y2="659.75" stroke="#1a1a1a" stroke-width="1.3"/>
<text x="262.3" y="662.95" font-size="8.6" text-anchor="end" fill="#333" font-weight="normal" letter-spacing="0.2">0.0001</text>
<line x1="264.40000000000003" y1="639.3" x2="267.6" y2="639.3" stroke="#1a1a1a" stroke-width="1.3"/>
<text x="262.3" y="642.5" font-size="8.6" text-anchor="end" fill="#333" font-weight="normal" letter-spacing="0.2">0.0002</text>
<line x1="264.40000000000003" y1="618.85" x2="267.6" y2="618.85" stroke="#1a1a1a" stroke-width="1.3"/>
<text x="262.3" y="622.0500000000001" font-size="8.6" text-anchor="end" fill="#333" font-weight="normal" letter-spacing="0.2">0.0003</text>
<line x1="264.40000000000003" y1="598.4" x2="267.6" y2="598.4" stroke="#1a1a1a" stroke-width="1.3"/>
<text x="262.3" y="601.6" font-size="8.6" text-anchor="end" fill="#333" font-weight="normal" letter-spacing="0.2">0.0004</text>
<line x1="287.7" y1="680.2" x2="287.7" y2="684.0" stroke="#1a1a1a" stroke-width="1.3"/>
<line x1="329.2" y1="680.2" x2="329.2" y2="684.0" stroke="#1a1a1a" stroke-width="1.3"/>
<line x1="369.9" y1="680.2" x2="369.9" y2="684.0" stroke="#1a1a1a" stroke-width="1.3"/>
<text transform="translate(292.7,692.0) rotate(-45)" font-size="8.5" text-anchor="end" fill="#2a2a2a">mTEChi</text>
<text transform="translate(334.2,692.0) rotate(-45)" font-size="8.5" text-anchor="end" fill="#2a2a2a">mTEClo</text>
<text transform="translate(375.4,692.0) rotate(-45)" font-size="8.5" text-anchor="end" fill="#2a2a2a">cTEC</text>
<text transform="translate(218.8,637.4) rotate(-90) scale(0.7221,1)" font-size="8.8" font-weight="normal" letter-spacing="0.415" word-spacing="0.000" text-anchor="middle" fill="#1a1a1a" stroke="#1a1a1a" stroke-width="0.25">mRNA expression relative</text>
<text transform="translate(229.0,637.4) rotate(-90) scale(0.7985,1)" font-size="8.8" font-weight="normal" letter-spacing="0.376" word-spacing="0.000" text-anchor="middle" fill="#1a1a1a" stroke="#1a1a1a" stroke-width="0.25">to b-actin</text>
<g shape-rendering="crispEdges">
<rect x="1" y="1" width="1" height="720" fill="#8a8a8a"/><rect x="518" y="1" width="1" height="720" fill="#8a8a8a"/>
<rect x="1" y="1" width="518" height="1" fill="#8a8a8a"/><rect x="1" y="720" width="518" height="1" fill="#8a8a8a"/>
<rect x="0" y="0" width="1" height="722" fill="#000"/><rect x="519" y="0" width="1" height="722" fill="#000"/>
<rect x="0" y="0" width="520" height="1" fill="#000"/><rect x="0" y="721" width="520" height="1" fill="#000"/>
</g>
</svg>
</body></html>
